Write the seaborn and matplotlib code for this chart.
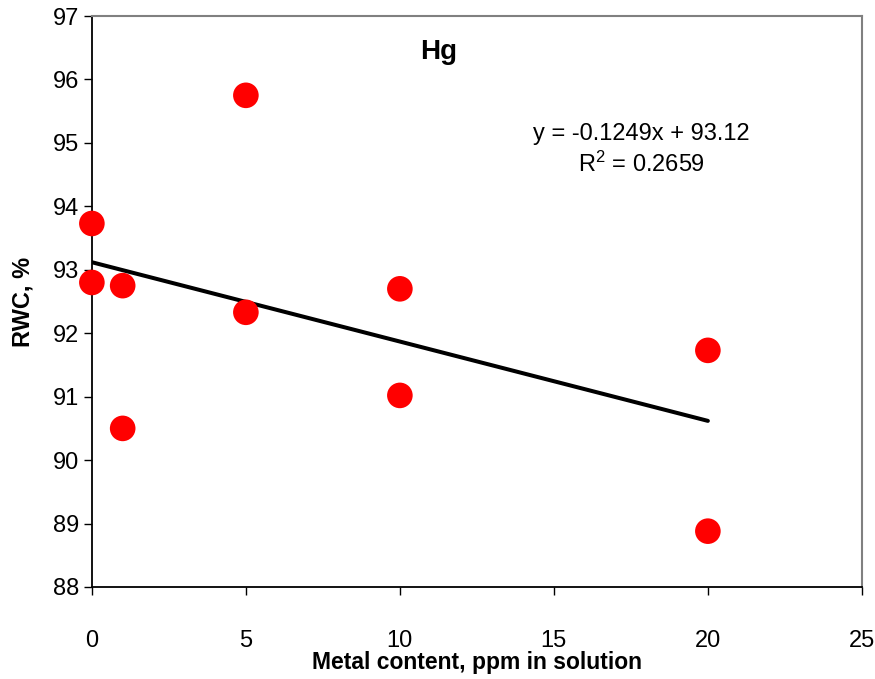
import matplotlib
matplotlib.use("Agg")
import matplotlib.pyplot as plt
import seaborn as sns
import numpy as np
import pandas as pd

metal_ppm = [0, 0, 1, 1, 5, 5, 10, 10, 20, 20]
rwc_pct = [93.73, 92.80, 92.75, 90.50, 95.75, 92.33, 92.70, 91.02, 91.73, 88.88]
x_ticks = [0, 5, 10, 15, 20, 25]
y_ticks = [88, 89, 90, 91, 92, 93, 94, 95, 96, 97]

df = pd.DataFrame({"x": metal_ppm, "y": rwc_pct})

sns.set_style("white")
plt.rcParams["font.family"] = ["Liberation Sans", "DejaVu Sans"]
plt.rcParams["text.color"] = "black"
plt.rcParams["axes.labelcolor"] = "black"

fig = plt.figure(figsize=(8.75, 6.79), dpi=100)
ax = fig.add_axes([0.105, 0.1355, 0.88, 0.8409])

sns.regplot(data=df, x="x", y="y", scatter=False, ci=None, ax=ax,
            line_kws={"color": "black", "linewidth": 2.9}, truncate=True)
sns.scatterplot(data=df, x="x", y="y", ax=ax, color="#ff0000", s=340,
                edgecolor="none", zorder=3, clip_on=False)

ax.set_xlim(0, 25)
ax.set_ylim(88, 97)
ax.set_xticks(x_ticks)
ax.set_yticks(y_ticks)
ax.tick_params(axis="both", direction="out", length=6, width=1, colors="black",
               labelsize=17, bottom=True, left=True)
ax.tick_params(axis="x", pad=25)
ax.tick_params(axis="y", pad=3)

for side in ["left", "bottom"]:
    ax.spines[side].set_color("black")
    ax.spines[side].set_linewidth(1.3)
for side in ["top", "right"]:
    ax.spines[side].set_color("#808080")
    ax.spines[side].set_linewidth(1.5)

ax.set_xlabel("Metal content, ppm in solution", fontsize=16.5, fontweight="bold", labelpad=-1)
ax.set_ylabel("RWC, %", fontsize=17, fontweight="bold", labelpad=13)

ax.text(0.45, 0.96, "Hg", transform=ax.transAxes, ha="center", va="top",
        fontsize=20, fontweight="bold")
ax.text(0.714, 0.765, "y = -0.1249x + 93.12\n$\\mathregular{R^2}$ = 0.2659",
        transform=ax.transAxes, ha="center", va="center", fontsize=17,
        linespacing=1.35)

fig.savefig("out.png", dpi=100)
